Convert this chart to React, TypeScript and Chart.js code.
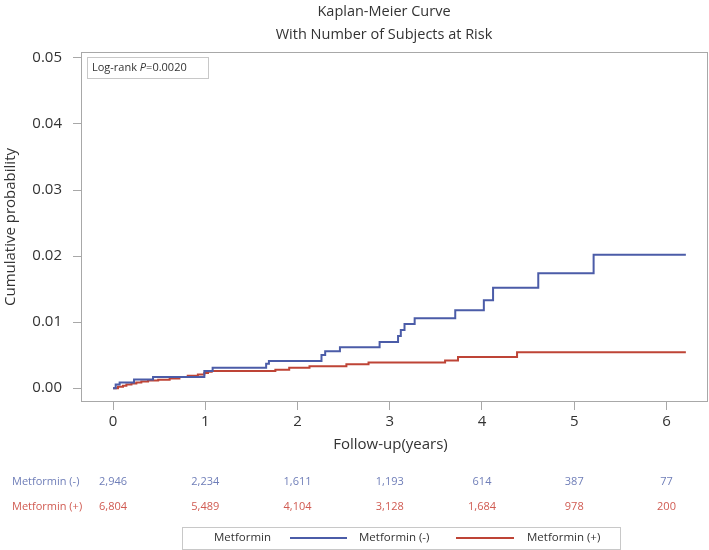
import React, { useEffect, useRef } from "react";
import { Chart, registerables } from "chart.js";

Chart.register(...registerables);

const FONT = "'Open Sans', sans-serif";

// Kaplan-Meier step data (time in years, cumulative probability)
const minusTimes = [0, 0.029, 0.072, 0.228, 0.434, 0.99, 1.08, 1.66, 1.69, 2.26, 2.3, 2.46, 2.89, 3.09, 3.12, 3.16, 3.27, 3.71, 4.02, 4.12, 4.61, 5.21, 6.21];
const minusProb = [0, 0.00056, 0.00086, 0.00131, 0.00167, 0.0026, 0.0031, 0.0037, 0.0041, 0.005, 0.0056, 0.0062, 0.007, 0.0079, 0.0088, 0.0097, 0.0106, 0.0118, 0.0133, 0.0152, 0.0174, 0.0202, 0.0202];

const plusTimes = [0, 0.054, 0.108, 0.145, 0.2, 0.253, 0.307, 0.38, 0.49, 0.614, 0.72, 0.81, 0.92, 0.99, 1.03, 1.07, 1.76, 1.91, 2.13, 2.53, 2.77, 3.6, 3.74, 4.38, 6.21];
const plusProb = [0, 0.0002, 0.00035, 0.00056, 0.0007, 0.00086, 0.001, 0.00116, 0.00126, 0.00146, 0.0017, 0.00187, 0.00207, 0.0023, 0.00247, 0.0026, 0.0028, 0.0031, 0.0033, 0.0036, 0.0039, 0.0042, 0.0047, 0.00545, 0.00545];

// Axis ticks
const xTickValues = [0, 1, 2, 3, 4, 5, 6];
const yTickValues = [0, 0.01, 0.02, 0.03, 0.04, 0.05];

// Number at risk
const riskTimes = [0, 1, 2, 3, 4, 5, 6];
const riskMinus = [2946, 2234, 1611, 1193, 614, 387, 77];
const riskPlus = [6804, 5489, 4104, 3128, 1684, 978, 200];

const seriesLabels = ["Metformin (-)", "Metformin (+)"];
const titleLines = ["Kaplan-Meier Curve", "With Number of Subjects at Risk"];

const BLUE = "#4B5CA8";
const RED = "#BE4436";
const BLUE_TXT = "#6F7EB8";
const RED_TXT = "#D05B52";
const FRAME = "#A8A8A8";
const TXT = "#333333";

const decor = {
  id: "decor",
  afterDraw(chart: any) {
    const { ctx, chartArea: a } = chart;
    const xs = chart.scales.x;
    ctx.save();
    // frame
    ctx.strokeStyle = FRAME;
    ctx.lineWidth = 1;
    ctx.strokeRect(a.left + 0.5, a.top + 0.5, a.right - a.left - 1, a.bottom - a.top - 1);

    // titles
    ctx.fillStyle = TXT;
    ctx.textAlign = "center";
    ctx.textBaseline = "middle";
    ctx.font = `14.5px ${FONT}`;
    ctx.fillText(titleLines[0], 384, 12);
    ctx.fillText(titleLines[1], 384, 35);

    // axis titles
    ctx.font = `15px ${FONT}`;
    ctx.fillText("Follow-up(years)", (a.left + a.right) / 2 - 4, a.bottom + 43);
    ctx.save();
    ctx.translate(11, (a.top + a.bottom) / 2);
    ctx.rotate(-Math.PI / 2);
    ctx.fillText("Cumulative probability", 0, 0);
    ctx.restore();

    // log-rank box
    ctx.strokeStyle = "#C8C8C8";
    ctx.strokeRect(87.5, 57.5, 121, 21);
    ctx.textAlign = "left";
    ctx.fillStyle = TXT;
    let tx = 92;
    const ty = 68;
    ctx.font = `11px ${FONT}`;
    ctx.fillText("Log-rank ", tx, ty);
    tx += ctx.measureText("Log-rank ").width;
    ctx.font = `italic 11px ${FONT}`;
    ctx.fillText("P", tx, ty);
    tx += ctx.measureText("P").width;
    ctx.font = `11px ${FONT}`;
    ctx.fillText("=0.0020", tx, ty);

    // at-risk table
    const rows = [
      { label: seriesLabels[0], vals: riskMinus, color: BLUE_TXT, y: a.bottom + 80 },
      { label: seriesLabels[1], vals: riskPlus, color: RED_TXT, y: a.bottom + 105 },
    ];
    ctx.font = `11px ${FONT}`;
    rows.forEach((r) => {
      ctx.fillStyle = r.color;
      ctx.textAlign = "left";
      ctx.fillText(r.label, 12, r.y);
      ctx.textAlign = "center";
      riskTimes.forEach((t, i) => {
        ctx.fillText(r.vals[i].toLocaleString("en-US"), xs.getPixelForValue(t), r.y);
      });
    });

    // legend
    const ly = 538;
    ctx.strokeStyle = "#C8C8C8";
    ctx.lineWidth = 1;
    ctx.strokeRect(182.5, 527.5, 438, 22);
    ctx.fillStyle = TXT;
    ctx.textAlign = "left";
    ctx.font = `11.5px ${FONT}`;
    ctx.fillText("Metformin", 214, ly);
    ctx.lineWidth = 2;
    ctx.strokeStyle = BLUE;
    ctx.beginPath();
    ctx.moveTo(290, ly);
    ctx.lineTo(347, ly);
    ctx.stroke();
    ctx.fillText(seriesLabels[0], 359, ly);
    ctx.strokeStyle = RED;
    ctx.beginPath();
    ctx.moveTo(456, ly);
    ctx.lineTo(514, ly);
    ctx.stroke();
    ctx.fillText(seriesLabels[1], 527, ly);
    ctx.restore();
  },
};

export default function App() {
  const ref = useRef<HTMLCanvasElement | null>(null);
  useEffect(() => {
    if (!ref.current) return;
    const chart = new Chart(ref.current, {
      type: "line",
      data: {
        datasets: [
          {
            label: seriesLabels[0],
            data: minusTimes.map((t, i) => ({ x: t, y: minusProb[i] })),
            stepped: "before",
            borderColor: BLUE,
            borderWidth: 2,
            pointRadius: 0,
            fill: false,
          },
          {
            label: seriesLabels[1],
            data: plusTimes.map((t, i) => ({ x: t, y: plusProb[i] })),
            stepped: "before",
            borderColor: RED,
            borderWidth: 2,
            pointRadius: 0,
            fill: false,
          },
        ],
      },
      options: {
        responsive: false,
        animation: false,
        devicePixelRatio: 1,
        layout: { padding: { left: 0, top: 52, right: 1, bottom: 0 } },
        plugins: {
          legend: { display: false },
          title: { display: false },
          tooltip: { enabled: false },
        },
        scales: {
          x: {
            type: "linear",
            min: -0.347,
            max: 6.45,
            afterBuildTicks: (s: any) => {
              s.ticks = xTickValues.map((v) => ({ value: v }));
            },
            afterFit: (s: any) => {
              s.height = 148;
            },
            grid: { drawOnChartArea: false, drawTicks: true, tickLength: 8, color: FRAME },
            border: { display: false },
            ticks: {
              font: { family: FONT, size: 15 },
              color: TXT,
              padding: 3,
              maxRotation: 0,
              autoSkip: false,
              callback: (v: any) => String(v),
            },
          },
          y: {
            type: "linear",
            min: -0.0021,
            max: 0.0509,
            afterBuildTicks: (s: any) => {
              s.ticks = yTickValues.map((v) => ({ value: v }));
            },
            afterFit: (s: any) => {
              s.width = 81;
            },
            grid: { drawOnChartArea: false, drawTicks: true, tickLength: 8, color: FRAME },
            border: { display: false },
            ticks: {
              font: { family: FONT, size: 15 },
              color: TXT,
              padding: 11,
              autoSkip: false,
              callback: (v: any) => Number(v).toFixed(2),
            },
          },
        },
      },
      plugins: [decor],
    } as any);
    return () => chart.destroy();
  }, []);
  return (
    <div style={{ position: "absolute", left: 0, top: 0, width: 709, height: 550, background: "#fff" }}>
      <canvas ref={ref} width={709} height={550} style={{ display: "block" }} />
    </div>
  );
}
